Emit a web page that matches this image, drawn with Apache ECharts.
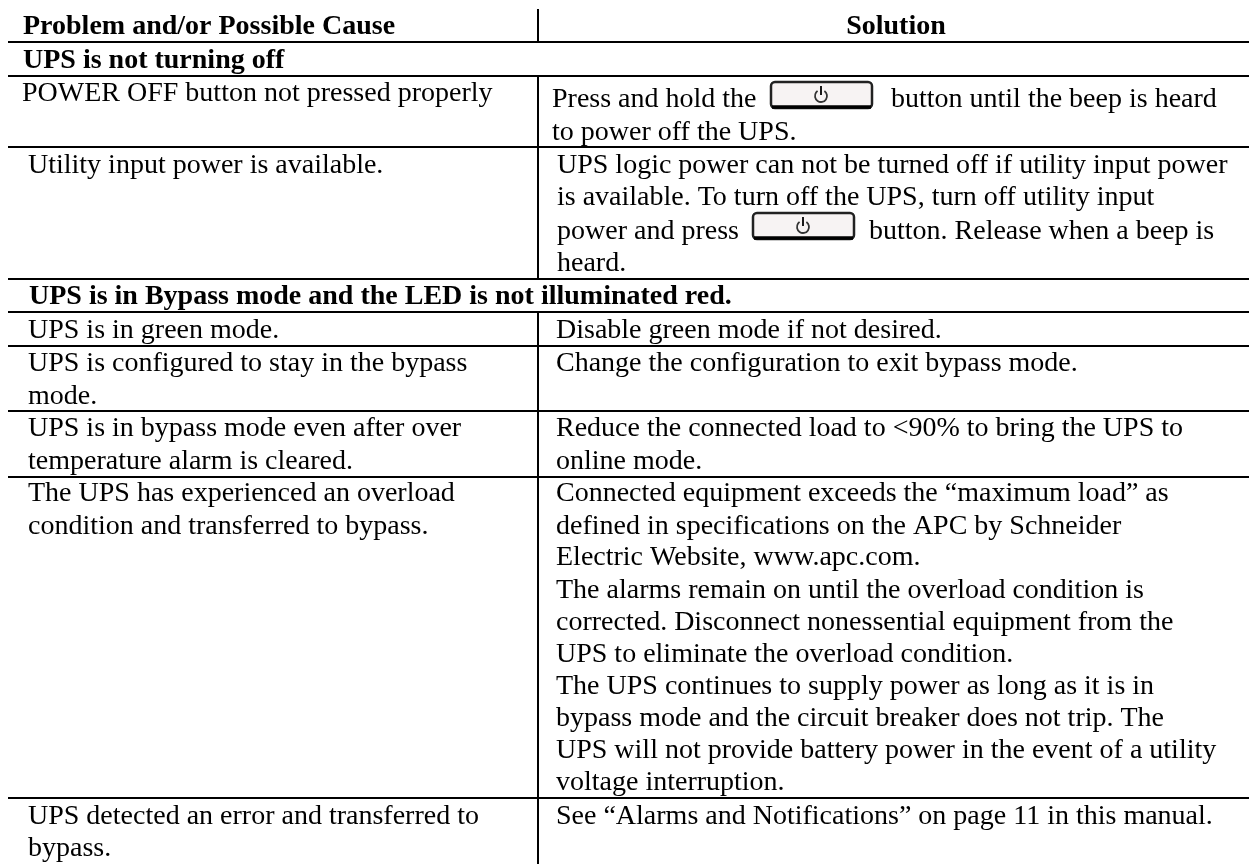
<!DOCTYPE html>
<html>
<head>
<meta charset="utf-8">
<style>html,body{margin:0;padding:0;background:#fff}#chart{width:1249px;height:864px}</style>
<script src="https://cdn.jsdelivr.net/npm/echarts@6/dist/echarts.min.js"></script>
</head>
<body>
<div id="chart"></div>
<script>
const headers = ['Problem and/or Possible Cause', 'Solution']
const sections = ['UPS is not turning off', 'UPS is in Bypass mode and the LED is not illuminated red.']
const causes = [
  'POWER OFF button not pressed properly',
  'Utility input power is available.',
  'UPS is in green mode.',
  'UPS is configured to stay in the bypass',
  'mode.',
  'UPS is in bypass mode even after over',
  'temperature alarm is cleared.',
  'The UPS has experienced an overload',
  'condition and transferred to bypass.',
  'UPS detected an error and transferred to',
  'bypass.',
]
const solutions = [
  'Press and hold the',
  'button until the beep is heard',
  'to power off the UPS.',
  'UPS logic power can not be turned off if utility input power',
  'is available. To turn off the UPS, turn off utility input',
  'power and press',
  'button. Release when a beep is',
  'heard.',
  'Disable green mode if not desired.',
  'Change the configuration to exit bypass mode.',
  'Reduce the connected load to <90% to bring the UPS to',
  'online mode.',
  'Connected equipment exceeds the “maximum load” as',
  'defined in specifications on the APC by Schneider',
  'Electric Website, www.apc.com.',
  'The alarms remain on until the overload condition is',
  'corrected. Disconnect nonessential equipment from the',
  'UPS to eliminate the overload condition.',
  'The UPS continues to supply power as long as it is in',
  'bypass mode and the circuit breaker does not trip. The',
  'UPS will not provide battery power in the event of a utility',
  'voltage interruption.',
  'See “Alarms and Notifications” on page 11 in this manual.',
]

// 版面位置
const causeX = [22, 28, 28, 28, 28, 28, 28, 28, 28, 28, 28]
const causeY = [94, 166, 331, 364, 397, 429, 462, 494, 527, 817, 849]
const solX = [552, 891, 552, 557, 557, 557, 869, 557, 556, 556, 556, 556, 556, 556, 556, 556, 556, 556, 556, 556, 556, 556, 556]
const solY = [100, 100, 133, 166, 198, 232, 232, 264, 331, 364, 429, 462, 494, 527, 558, 591, 623, 655, 687, 719, 751, 783, 817]
const hLines = [42, 76, 147, 279, 312, 346, 411, 477, 798]
const vLines = [[9, 42], [76, 279], [312, 864]]
const buttons = [[771, 82], [753, 213]]

const serif = '"Liberation Serif", serif'
const text = (x, y, t, bold, align) => ({
  type: 'text',
  style: { x, y, text: t, fill: '#000', align: align || 'left', verticalAlign: 'middle',
    font: (bold ? 'bold ' : '') + '28px ' + serif },
})
const line = (x1, y1, x2, y2, w) => ({
  type: 'line',
  shape: { x1, y1, x2, y2 },
  style: { stroke: '#000', lineWidth: w || 2 },
})

const elements = []
hLines.forEach(y => elements.push(line(8, y, 1249, y)))
vLines.forEach(v => elements.push(line(538, v[0], 538, v[1])))
elements.push(text(23, 27, headers[0], true))
elements.push(text(896, 27, headers[1], true, 'center'))
elements.push(text(23, 61, sections[0], true))
elements.push(text(29, 297, sections[1], true))
causes.forEach((t, i) => elements.push(text(causeX[i], causeY[i], t)))
solutions.forEach((t, i) => elements.push(text(solX[i], solY[i], t)))
buttons.forEach(b => {
  elements.push({
    type: 'rect',
    shape: { x: b[0], y: b[1], width: 101, height: 26, r: 4 },
    style: { fill: '#f7f3f3', stroke: '#222', lineWidth: 2.5 },
  })
  elements.push(line(b[0] + 1, b[1] + 25, b[0] + 100, b[1] + 25, 3.5))
  elements.push({
    type: 'arc',
    shape: { cx: b[0] + 50, cy: b[1] + 14, r: 6, startAngle: -Math.PI / 2 + 0.6, endAngle: -Math.PI / 2 - 0.6 + Math.PI * 2 },
    style: { fill: 'none', stroke: '#333', lineWidth: 1.8 },
  })
  elements.push(line(b[0] + 50, b[1] + 4, b[0] + 50, b[1] + 13, 1.8))
})

const chart = echarts.init(document.getElementById('chart'), null, { renderer: 'canvas' })
chart.setOption({ animation: false, backgroundColor: '#fff', graphic: { elements } })
</script>
</body>
</html>
